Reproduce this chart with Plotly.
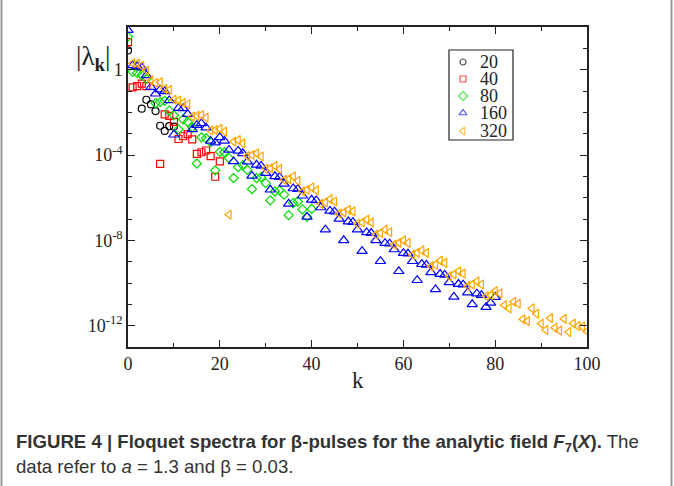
import plotly.graph_objects as go

# ---- data (y values given as log10 exponents) ----
k20 = [0, 3, 4, 5, 6, 7, 8, 9, 10]
e20 = [0.9, -1.83, -1.41, -1.63, -1.94, -2.63, -2.87, -2.65, -2.67]

k40 = [0, 1, 2, 3, 4, 7, 8, 9, 10, 11, 12, 13, 14, 15, 16, 17, 18, 19, 20]
e40 = [1.29, -0.83, -0.77, -0.65, -0.77, -4.42, -2.1, -2.17, -2.45, -3.25,
       -3.12, -3.02, -3.27, -3.95, -3.87, -3.79, -4.05, -5.02, -4.3]

k80 = [0, 1, 2, 3, 4, 6, 7, 8, 9, 10, 11, 12, 13, 14, 15, 16, 17, 18, 19, 20,
       21, 22, 23, 24, 25, 26, 27, 28, 29, 30, 31, 32, 33, 34, 35, 36, 37, 38, 39, 40]
e80 = [1.55, -0.1, -0.15, -0.25, -0.43, -1.57, -1.52, -1.46, -1.92, -2.14,
       -2.8, -2.33, -2.45, -2.7, -4.4, -3.17, -3.22, -3.4, -4.72, -3.85,
       -3.87, -4.15, -5.08, -4.57, -4.48, -4.7, -5.6, -5.08, -5.04, -5.32,
       -6.13, -5.71, -5.66, -5.86, -6.82, -6.25, -6.18, -6.55, -6.9, -6.53]

k160 = list(range(0, 81))
e160 = [1.85, 0.2, 0.15, 0.1, -0.27, -0.82, -1.13, -0.94, -1.02, -1.44,
        -3.05, -1.8, -1.81, -2.08, -2.8, -2.6, -2.52, -2.72, -3.34, -3.42,
        -3.17, -3.34, -3.76, -4.3, -3.81, -3.92, -4.31, -4.98, -4.46, -4.51,
        -4.85, -5.63, -5.0, -5.04, -5.35, -6.29, -5.57, -5.6, -5.91, -6.9,
        -6.1, -6.13, -6.46, -7.5, -6.62, -6.66, -6.99, -8.0, -7.12, -7.15,
        -7.5, -8.51, -7.63, -7.66, -8.0, -8.98, -8.13, -8.16, -8.43, -9.45,
        -8.6, -8.63, -8.98, -9.87, -9.12, -9.15, -9.5, -10.3, -9.58, -9.62,
        -9.97, -10.65, -10.05, -10.08, -10.45, -11.0, -10.5, -10.57, -11.13, -10.93,
        -10.66]

k320 = list(range(1, 101))
e320 = [0.3, 0.28, 0.18, -0.05, -0.5, -0.62, -0.6, -0.9, -0.95, -1.4,
        -1.45, -1.55, -1.62, -2.2, -2.17, -2.13, -2.25, -2.85, -2.83, -2.78,
        -2.9, -6.8, -3.37, -3.3, -3.45, -4.05, -4.0, -3.92, -4.07, -4.65,
        -4.62, -4.51, -4.66, -5.17, -5.13, -5.0, -5.21, -5.7, -5.63, -5.52,
        -5.66, -6.29, -6.22, -6.07, -6.18, -6.75, -6.69, -6.57, -6.64, -7.22,
        -7.16, -7.03, -7.16, -7.73, -7.65, -7.5, -7.61, -8.2, -8.12, -8.0,
        -8.12, -8.67, -8.59, -8.47, -8.59, -9.21, -9.14, -8.95, -9.06, -9.68,
        -9.6, -9.45, -9.56, -10.15, -10.07, -9.92, -10.07, -10.62, -10.57, -10.38,
        -10.49, -11.04, -11.19, -10.88, -10.97, -11.7, -11.79, -11.19, -11.44, -11.9,
        -12.2, -11.65, -12.1, -12.23, -11.68, -12.3, -11.9, -12.02, -12.05, -12.27]

series_names = ["20", "40", "80", "160", "320"]
x_ticks = [0, 20, 40, 60, 80, 100]
y_ticks = [1, 1e-4, 1e-8, 1e-12]
y_ticktext = ["1", "10<sup>-4</sup>", "10<sup>-8</sup>", "10<sup>-12</sup>"]

# ---- figure geometry (pixels) ----
W, H = 674, 486
L, R, T, B = 128, 87, 27, 139
pw, ph = W - L - R, H - T - B


def px(x):
    return (x - L) / pw


def py(y):
    return (H - B - y) / ph


styles = [
    ("circle-open", "black", 7),
    ("square-open", "#ff0000", 7),
    ("diamond-open", "#00dd00", 7),
    ("triangle-up-open", "#0000ff", 9),
    ("triangle-left-open", "#ffa500", 8),
]
ks = [k20, k40, k80, k160, k320]
es = [e20, e40, e80, e160, e320]

fig = go.Figure()
for name, k, e, (sym, col, sz) in zip(series_names, ks, es, styles):
    fig.add_trace(go.Scatter(
        x=k, y=[10 ** v for v in e], mode="markers", name=name, showlegend=False,
        marker=dict(symbol=sym, size=sz, color=col, line=dict(color=col, width=1.2)),
    ))

# legend (drawn in a fixed box, like the reference)
leg_box = (449, 50, 513, 140)
leg_marker_x = 463
leg_text_x = 479
leg_rows = [62, 79, 96, 113, 131]
fig.add_trace(go.Scatter(
    x=[px(leg_marker_x)] * 5, y=[py(r) for r in leg_rows],
    xaxis="x2", yaxis="y2", mode="markers", showlegend=False, hoverinfo="skip",
    marker=dict(symbol=[s[0] for s in styles], size=[6, 6, 7, 7, 7],
                color=[s[1] for s in styles],
                line=dict(color=[s[1] for s in styles], width=1.2)),
))

axis_common = dict(
    showline=True, linecolor="#222", linewidth=1.5, mirror="ticks",
    ticks="inside", ticklen=7, tickwidth=1.2, tickcolor="#222",
    showgrid=False, zeroline=False,
    tickfont=dict(family="Liberation Serif", size=18, color="#222"),
)

fig.update_xaxes(range=[0, 100], tickvals=x_ticks,
                 minor=dict(tickvals=list(range(0, 101, 10)), ticks="inside", ticklen=4,
                            tickcolor="#222", tickwidth=1.2),
                 **axis_common)
fig.update_yaxes(type="log", range=[-13, 2], tickvals=y_ticks, ticktext=y_ticktext,
                 minor=dict(tickvals=[10.0 ** i for i in range(-13, 3)], ticks="inside",
                            ticklen=4, tickcolor="#222", tickwidth=1.2),
                 **axis_common)

fig.update_layout(
    width=W, height=H,
    margin=dict(l=L, r=R, t=T, b=B),
    paper_bgcolor="white", plot_bgcolor="white",
    showlegend=False,
    xaxis2=dict(overlaying="x", range=[0, 1], visible=False),
    yaxis2=dict(overlaying="y", range=[0, 1], visible=False),
)

annotations = [
    dict(text="|λ<sub><b>k</b></sub>|", x=px(93), y=py(58), xref="paper", yref="paper",
         showarrow=False, xanchor="center", yanchor="middle",
         font=dict(family="Liberation Serif", size=27, color="#222")),
    dict(text="k", x=0.5, y=py(380), xref="paper", yref="paper",
         showarrow=False, xanchor="center", yanchor="middle",
         font=dict(family="Liberation Serif", size=23, color="#222")),
    dict(text="<b>FIGURE 4 | Floquet spectra for β-pulses for the analytic field <i>F</i><sub>7</sub>(<i>X</i>).</b> The",
         x=px(14), y=py(443), xref="paper", yref="paper", showarrow=False,
         xanchor="left", yanchor="middle",
         font=dict(family="Liberation Sans", size=18.6, color="#333")),
    dict(text="data refer to <i>a</i> = 1.3 and β = 0.03.",
         x=px(14), y=py(466), xref="paper", yref="paper", showarrow=False,
         xanchor="left", yanchor="middle",
         font=dict(family="Liberation Sans", size=18.6, color="#333")),
]
for name, r in zip(series_names, leg_rows):
    annotations.append(dict(text=name, x=px(leg_text_x), y=py(r), xref="paper", yref="paper",
                            showarrow=False, xanchor="left", yanchor="middle", borderpad=0,
                            font=dict(family="Liberation Serif", size=18, color="#222")))
fig.update_layout(annotations=annotations)

# legend box
fig.add_shape(type="rect", xref="paper", yref="paper", layer="below",
              x0=px(leg_box[0]), x1=px(leg_box[2]), y0=py(leg_box[1]), y1=py(leg_box[3]),
              line=dict(color="#222", width=1.2), fillcolor="white")

# figure frame (left and right rules of the figure box)
for xv in (1.5, 671.5):
    fig.add_shape(type="line", xref="paper", yref="paper",
                  x0=px(xv), x1=px(xv), y0=py(0), y1=py(H),
                  line=dict(color="#999", width=2))

fig.write_html("out.html", config={"displayModeBar": False},
               post_script="document.body.style.margin='0px';")
